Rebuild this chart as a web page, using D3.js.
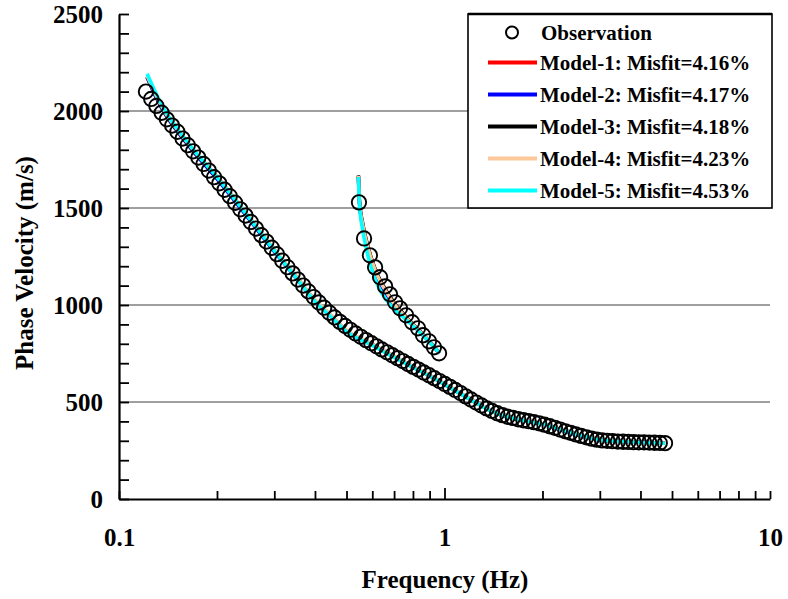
<!DOCTYPE html>
<html><head><meta charset="utf-8">
<script src="https://cdn.jsdelivr.net/npm/d3@7"></script>
<style>
body{margin:0;background:#fff;}
text{font-family:"Liberation Serif","Times New Roman",serif;font-weight:bold;fill:#000;}
</style></head>
<body><svg id="c" width="788" height="599"></svg>
<script>
// ---------- DATA ----------
const obsFreq1 = [0.121,0.1256,0.1303,0.1352,0.1403,0.1456,0.1511,0.1568,0.1627,0.1689,0.1753,0.1819,0.1888,0.1959,0.2033,0.2110,0.2190,0.2273,0.2359,0.2448,0.2540,0.2636,0.2736,0.2839,0.2946,0.3057,0.3173,0.3293,0.3417,0.3546,0.3680,0.3819,0.3963,0.4113,0.4268,0.4429,0.4597,0.4771,0.4951,0.5138,0.5332,0.5534,0.5743,0.5960,0.6185,0.6419,0.6661,0.6913,0.7174,0.7445,0.7727,0.8019,0.8322,0.8636,0.8963,0.9301,0.9653,1.0018,1.0396,1.0789,1.1197,1.1620,1.2059,1.2515,1.2988,1.3479,1.3988,1.4517,1.5066,1.5635,1.6226,1.6839,1.7476,1.8136,1.8822,1.9533,2.0272,2.1038,2.1833,2.2658,2.3515,2.4403,2.5326,2.6283,2.7276,2.8307,2.9377,3.0488,3.1640,3.2836,3.4077,3.5365,3.6702,3.8089,3.9529,4.1023,4.2573,4.4183,4.5853,4.7586];
const obsVel1 = [2100,2062,2026,1991,1957,1925,1893,1858,1824,1792,1760,1727,1693,1659,1627,1594,1561,1527,1493,1461,1428,1394,1360,1327,1295,1262,1228,1195,1163,1131,1100,1070,1041,1013,986,960,936,913,892,872,853,836,819,803,787,771,756,741,726,711,696,681,667,652,638,623,608,593,578,562,546,529,513,497,482,467,454,442,432,424,418,411,406,401,396,390,383,375,367,358,349,341,333,325,318,311,306,302,300,298,296,295,294,293,292,292,291,290,289,288];
const obsFreq2 = [0.546,0.566,0.590,0.612,0.634,0.657,0.680,0.705,0.730,0.762,0.795,0.829,0.859,0.896,0.928,0.962];
const obsVel2  = [1529,1343,1256,1194,1143,1096,1055,1014,983,947,911,880,844,813,782,751];

const modelNames = ["Model-1: Misfit=4.16%","Model-2: Misfit=4.17%","Model-3: Misfit=4.18%","Model-4: Misfit=4.23%","Model-5: Misfit=4.53%"];
const modelColors = ["#ff0000","#0000ff","#000000","#fcc899","#00ffff"];

const modFreq1 = [0.122,0.13,0.14,0.15,0.17,0.2,0.25,0.3,0.35,0.4,0.45,0.5,0.6,0.7,0.8,0.9,1.0,1.2,1.4,1.6,1.8,2.0,2.3,2.6,3.0,3.5,4.0,4.76];
const m1Vel1 = [2175,2075,1975,1905,1790,1655,1450,1280,1142,1022,940,866,795,733,681,636,592,515,453,420,401,387,355,329,304,296,292,288];
const m2Vel1 = [2172,2070,1972,1902,1787,1650,1446,1276,1140,1020,938,865,794,732,680,636,593,516,454,421,401,386,354,328,304,296,292,288];
const m3Vel1 = [2178,2078,1978,1908,1792,1660,1455,1284,1146,1025,942,868,797,735,682,637,592,514,452,419,400,386,356,330,305,297,292,288];
const m4Vel1 = [2180,2080,1980,1910,1795,1662,1458,1287,1148,1027,944,870,798,736,683,638,594,517,455,422,402,388,357,331,305,296,291,288];
const m5Vel1 = [2192,2090,1988,1915,1797,1658,1452,1280,1140,1018,936,863,792,730,678,634,590,513,451,419,400,386,355,329,304,296,291,287];

const modFreq2 = [0.544,0.548,0.56,0.575,0.59,0.61,0.63,0.66,0.7,0.75,0.8,0.85,0.9,0.95,0.965];
const m1Vel2 = [1665,1530,1420,1330,1262,1190,1135,1075,1010,950,900,855,810,765,752];
const m2Vel2 = [1662,1525,1410,1318,1250,1178,1122,1062,1000,944,896,852,809,765,752];
const m3Vel2 = [1668,1535,1425,1335,1265,1193,1138,1078,1012,952,901,856,810,766,752];
const m4Vel2 = [1665,1530,1418,1328,1260,1188,1132,1072,1006,948,899,854,810,765,752];
const m5Vel2 = [1660,1520,1390,1290,1215,1140,1085,1030,980,935,893,850,808,765,752];

const yTicks = [0,500,1000,1500,2000,2500];
const xTickLabels = [0.1,1,10];
const xMinor = [0.2,0.3,0.4,0.5,0.6,0.7,0.8,0.9,2,3,4,5,6,7,8,9];

// ---------- CHART ----------
const svg = d3.select("#c");
const L=119,R=770,T=14,B=499;
const x = d3.scaleLog().domain([0.1,10]).range([L,R]);
const y = d3.scaleLinear().domain([0,2500]).range([B,T]);

svg.append("g").selectAll("line").data([500,1000,1500,2000]).join("line")
  .attr("x1",L).attr("x2",R).attr("y1",d=>y(d)).attr("y2",d=>y(d))
  .attr("stroke","#7f7f7f").attr("stroke-width",1.6);

const models = [
  [m1Vel1,m1Vel2],[m2Vel1,m2Vel2],[m3Vel1,m3Vel2],[m4Vel1,m4Vel2],[m5Vel1,m5Vel2]
];
const line = d3.line().x(d=>x(d[0])).y(d=>y(d[1])).curve(d3.curveMonotoneX);
const gm = svg.append("g");
models.forEach((m,i)=>{
  gm.append("path").attr("d",line(modFreq1.map((f,j)=>[f,m[0][j]])))
    .attr("fill","none").attr("stroke",modelColors[i]).attr("stroke-width",3.5);
  gm.append("path").attr("d",line(modFreq2.map((f,j)=>[f,m[1][j]])))
    .attr("fill","none").attr("stroke",modelColors[i]).attr("stroke-width",3.5);
});

const obs = obsFreq1.map((f,i)=>[f,obsVel1[i]]).concat(obsFreq2.map((f,i)=>[f,obsVel2[i]]));
svg.append("g").selectAll("circle").data(obs).join("circle")
  .attr("cx",d=>x(d[0])).attr("cy",d=>y(d[1])).attr("r",7.2)
  .attr("fill","none").attr("stroke","#000").attr("stroke-width",1.9);

const yAxis = d3.axisLeft(y).tickValues(d3.range(0,2501,100))
  .tickSize(-10).tickSizeOuter(0).tickPadding(16)
  .tickFormat(d=> yTicks.includes(d) ? d : "");
const gy = svg.append("g").attr("transform",`translate(${L},0)`).call(yAxis);
gy.select(".domain").attr("stroke","#000").attr("stroke-width",2.2);
gy.selectAll(".tick line").attr("stroke","#000").attr("stroke-width",1.8);
gy.selectAll("text").style("font-size","25px").style("font-family",null);

const xAxis = d3.axisBottom(x).tickValues(xMinor.concat(xTickLabels))
  .tickSize(-8).tickSizeOuter(0).tickPadding(29)
  .tickFormat(d=> xTickLabels.includes(d) ? String(d) : "");
const gx = svg.append("g").attr("transform",`translate(0,${B})`).call(xAxis);
gx.select(".domain").attr("stroke","#000").attr("stroke-width",2.2);
gx.selectAll(".tick line").attr("stroke","#000").attr("stroke-width",1.8)
  .attr("y2",d=> d===1 ? -11 : -8);
gx.selectAll("text").style("font-size","25px").style("font-family",null);

svg.append("text").attr("x",445).attr("y",579).attr("dy","0.35em")
  .attr("text-anchor","middle").style("font-size","25px").text("Frequency (Hz)");
svg.append("text").attr("transform","translate(24,263) rotate(-90)").attr("dy","0.35em")
  .attr("text-anchor","middle").style("font-size","25px").text("Phase Velocity (m/s)");

const lg = svg.append("g");
lg.append("rect").attr("x",468).attr("y",T).attr("width",304).attr("height",y(1500)-T)
  .attr("fill","#fff").attr("stroke","#000").attr("stroke-width",1.6);
lg.append("line").attr("x1",468).attr("x2",772).attr("y1",T).attr("y2",T)
  .attr("stroke","#000").attr("stroke-width",2.5);
const rowY = [32.5,62.5,94.5,126.5,158.5,190.5];
lg.append("circle").attr("cx",512).attr("cy",rowY[0]).attr("r",6)
  .attr("fill","none").attr("stroke","#000").attr("stroke-width",2);
lg.append("text").attr("x",541).attr("y",rowY[0]).attr("dy","0.35em")
  .style("font-size","21px").text("Observation");
modelNames.forEach((n,i)=>{
  lg.append("line").attr("x1",488).attr("x2",537).attr("y1",rowY[i+1]).attr("y2",rowY[i+1])
    .attr("stroke",modelColors[i]).attr("stroke-width",4);
  lg.append("text").attr("x",540).attr("y",rowY[i+1]).attr("dy","0.35em")
    .style("font-size","21px").text(n);
});
</script></body></html>
